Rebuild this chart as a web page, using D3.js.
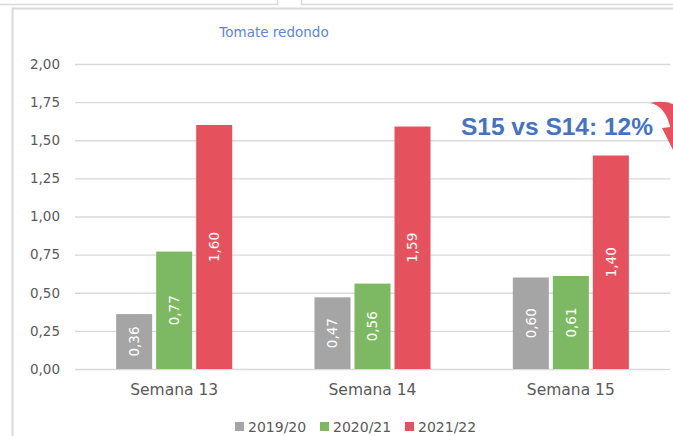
<!DOCTYPE html>
<html><head><meta charset="utf-8">
<script src="https://cdn.jsdelivr.net/npm/d3@7"></script>
<style>body{margin:0;background:#fff}svg{display:block}</style>
</head><body>
<script>
const categories = ["Semana 13", "Semana 14", "Semana 15"];
const seriesNames = ["2019/20", "2020/21", "2021/22"];
const values2019 = [0.36, 0.47, 0.60];
const values2020 = [0.77, 0.56, 0.61];
const values2021 = [1.60, 1.59, 1.40];
const yTicks = [0, 0.25, 0.5, 0.75, 1, 1.25, 1.5, 1.75, 2];
const colors = ["#a5a5a5", "#7db962", "#e5525d"];
const title = "Tomate redondo";
const annotation = "S15 vs S14: 12%";

const series = [values2019, values2020, values2021];
const W = 673, H = 436;
const svg = d3.select("body").append("svg").attr("width", W).attr("height", H);
svg.append("rect").attr("width", W).attr("height", H).attr("fill", "#fff");

// surrounding frames
svg.append("path").attr("d", "M0,4.5H277.5V0").attr("fill", "none").attr("stroke", "#d9d9d9").attr("stroke-width", 1.5);
svg.append("path").attr("d", "M301.5,0V4.5H673").attr("fill", "none").attr("stroke", "#d9d9d9").attr("stroke-width", 1.5);
svg.append("path").attr("d", "M12.5,436V8.5H673").attr("fill", "none").attr("stroke", "#d9d9d9").attr("stroke-width", 2);

const font = "'DejaVu Sans', sans-serif";
const locale = d3.formatLocale({decimal: ",", thousands: ".", grouping: [3], currency: ["", "€"]});
const fmt = locale.format(".2f");

const y = d3.scaleLinear().domain([0, 2]).range([369, 64]);
const x = d3.scaleBand().domain(categories).range([75, 670]).paddingInner(0.415).paddingOuter(0.2075);
const xs = d3.scaleBand().domain(seriesNames).range([0, x.bandwidth()]).paddingInner(0.1);

// gridlines
const yAxis = d3.axisLeft(y).tickValues(yTicks).tickSize(-(670 - 75)).tickPadding(15).tickFormat(fmt);
const gy = svg.append("g").attr("transform", "translate(75,0)").call(yAxis);
gy.select(".domain").remove();
gy.selectAll(".tick line").attr("stroke", "#d9d9d9").attr("stroke-width", 1.3);
gy.selectAll(".tick text").attr("fill", "#595959").attr("font-family", font).attr("font-size", 13.5);

// bars
const groups = svg.append("g").selectAll("g").data(categories).join("g")
  .attr("transform", d => `translate(${x(d)},0)`);
groups.each(function(cat, ci) {
  const g = d3.select(this);
  seriesNames.forEach((s, si) => {
    const v = series[si][ci];
    g.append("rect").attr("x", xs(s)).attr("y", y(v)).attr("width", xs.bandwidth())
      .attr("height", y(0) - y(v)).attr("fill", colors[si]);
    const cx = xs(s) + xs.bandwidth() / 2, cy = (y(v) + y(0)) / 2;
    g.append("text").attr("transform", `translate(${cx},${cy}) rotate(-90)`)
      .attr("text-anchor", "middle").attr("dy", "0.35em")
      .attr("fill", "#fff").attr("font-family", font).attr("font-size", 13.5)
      .text(fmt(v));
  });
});

// x axis labels
const xAxis = d3.axisBottom(x).tickSize(0).tickPadding(15);
const gx = svg.append("g").attr("transform", `translate(0,${y(0)})`).call(xAxis);
gx.select(".domain").remove();
gx.selectAll(".tick text").attr("fill", "#595959").attr("font-family", font).attr("font-size", 15.5);

// title
svg.append("text").attr("x", 274).attr("y", 37).attr("text-anchor", "middle")
  .attr("fill", "#5b86d6").attr("font-family", font).attr("font-size", 13.5).text(title);

// legend
const legendX = [235, 320, 405];
const leg = svg.append("g").selectAll("g").data(seriesNames).join("g")
  .attr("transform", (d, i) => `translate(${legendX[i]},0)`);
leg.append("rect").attr("x", 0).attr("y", 422).attr("width", 9).attr("height", 9).attr("fill", (d, i) => colors[i]);
leg.append("text").attr("x", 13).attr("y", 432).attr("fill", "#595959")
  .attr("font-family", font).attr("font-size", 14).text(d => d);

// annotation
svg.append("text").attr("x", 653).attr("y", 135).attr("text-anchor", "end")
  .attr("fill", "#4472c4").attr("font-family", "'Liberation Sans', Arial, sans-serif").attr("font-weight", "bold")
  .attr("font-size", 24.5).text(annotation);
// curved arrow
svg.append("path").attr("d", "M650,103 Q666,106 671,130 L673,130 L673,104 Q662,100 650,103Z").attr("fill", "#e5525d");
svg.append("path").attr("d", "M662,128 L673,150 L680,126Z").attr("fill", "#e5525d");
</script>
</body></html>
